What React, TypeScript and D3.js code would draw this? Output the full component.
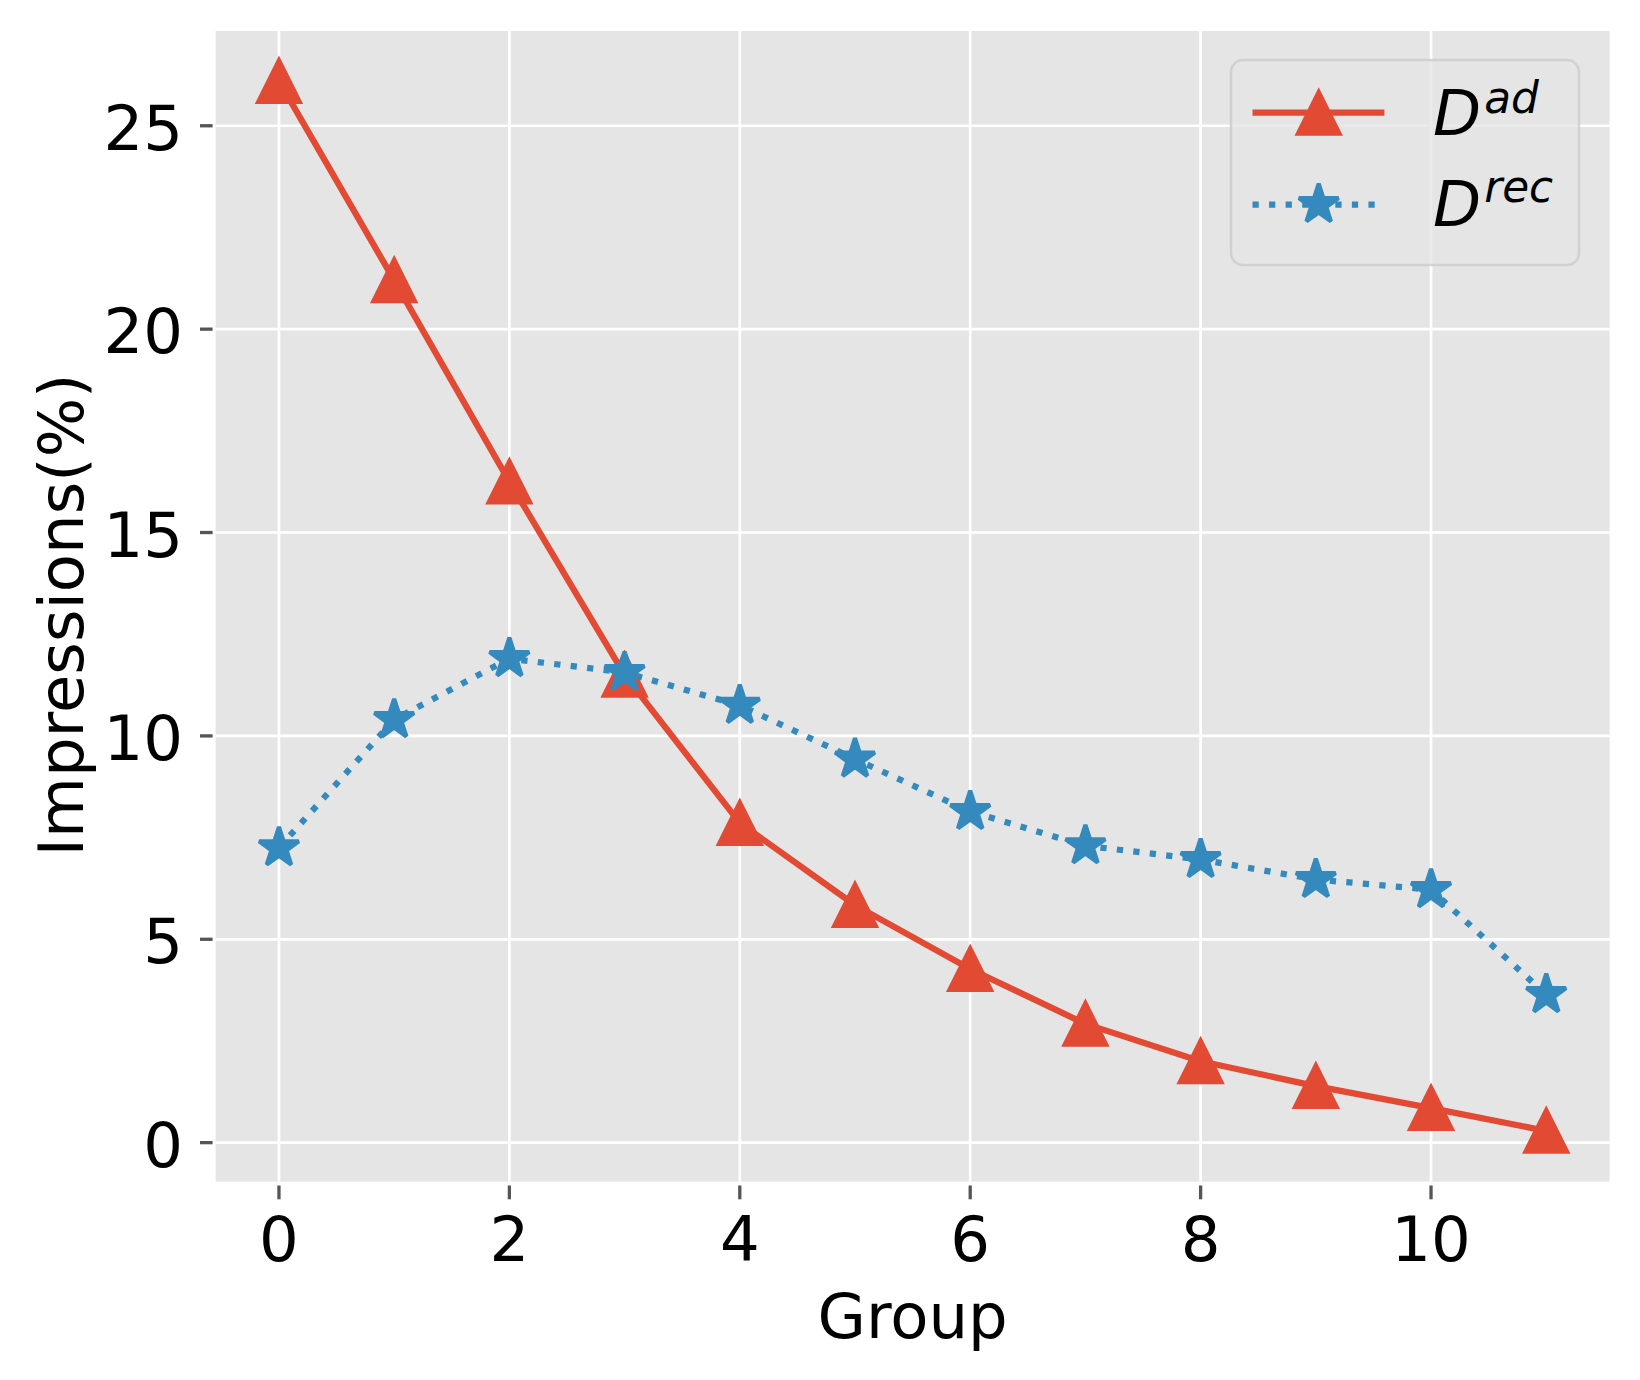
import React from "react";
import * as d3 from "d3";

const groups = [0, 1, 2, 3, 4, 5, 6, 7, 8, 9, 10, 11];
const adValues = [26.1, 21.2, 16.25, 11.5, 7.86, 5.84, 4.27, 2.92, 2.0, 1.39, 0.85, 0.29];
const recValues = [7.25, 10.4, 11.9, 11.56, 10.75, 9.43, 8.14, 7.3, 6.96, 6.47, 6.22, 3.64];
const xTicks = [0, 2, 4, 6, 8, 10];
const yTicks = [0, 5, 10, 15, 20, 25];
const xLimits = [-0.55, 11.55];
const yLimits = [-0.96, 27.33];

const W = 1640;
const H = 1380;
const plot = { left: 215.6, right: 1609.6, top: 31, bottom: 1181.7 };
const RED = "#E24A33";
const BLUE = "#348ABD";
const FONT = "'DejaVu Sans', sans-serif";
const FS = 62.5;
const SUP = 43.75;
const MS = 41.7; // marker size px
const MEW = 4.17;
const LW = 6.25;

function trianglePath(cx: number, cy: number, s: number) {
  const h = s / 2;
  return `M${cx},${cy - h}L${cx - h},${cy + h}L${cx + h},${cy + h}Z`;
}

function starPath(cx: number, cy: number, s: number) {
  const ro = s / 2;
  const ri = ro * 0.381966;
  const pts: string[] = [];
  for (let i = 0; i < 10; i++) {
    const r = i % 2 === 0 ? ro : ri;
    const a = -Math.PI / 2 + (i * Math.PI) / 5;
    pts.push(`${cx + r * Math.cos(a)},${cy + r * Math.sin(a)}`);
  }
  return "M" + pts.join("L") + "Z";
}

export default function App() {
  const x = d3.scaleLinear().domain(xLimits).range([plot.left, plot.right]);
  const y = d3.scaleLinear().domain(yLimits).range([plot.bottom, plot.top]);

  const lineAd = d3
    .line<number>()
    .x((_, i) => x(groups[i]))
    .y((d) => y(d))(adValues) as string;
  const lineRec = d3
    .line<number>()
    .x((_, i) => x(groups[i]))
    .y((d) => y(d))(recValues) as string;

  const leg = { x: 1231, y: 60, w: 348, h: 205 };
  const legLineX0 = 1252.5;
  const legLineX1 = 1384.4;
  const legMarkX = 1318.7;
  const legRow1 = 112.7;
  const legRow2 = 204.5;
  const legTextX = 1433;

  return (
    <svg
      width={W}
      height={H}
      viewBox={`0 0 ${W} ${H}`}
      style={{ position: "absolute", left: 0, top: 0, background: "#fff" }}
      fontFamily={FONT}
    >
      <rect x={0} y={0} width={W} height={H} fill="#ffffff" />
      <rect
        x={plot.left}
        y={plot.top}
        width={plot.right - plot.left}
        height={plot.bottom - plot.top}
        fill="#E5E5E5"
      />
      <defs>
        <clipPath id="plotclip">
          <rect
            x={plot.left}
            y={plot.top}
            width={plot.right - plot.left}
            height={plot.bottom - plot.top}
          />
        </clipPath>
      </defs>
      {/* grid */}
      {xTicks.map((t) => (
        <line
          key={"gx" + t}
          x1={x(t)}
          x2={x(t)}
          y1={plot.top}
          y2={plot.bottom}
          stroke="#ffffff"
          strokeWidth={2.7}
        />
      ))}
      {yTicks.map((t) => (
        <line
          key={"gy" + t}
          x1={plot.left}
          x2={plot.right}
          y1={y(t)}
          y2={y(t)}
          stroke="#ffffff"
          strokeWidth={2.7}
        />
      ))}
      {/* ticks */}
      {xTicks.map((t) => (
        <g key={"tx" + t}>
          <line
            x1={x(t)}
            x2={x(t)}
            y1={plot.bottom + 3.8}
            y2={plot.bottom + 17.6}
            stroke="#555555"
            strokeWidth={3.3}
          />
          <text x={x(t)} y={1261} fontSize={FS} textAnchor="middle" fill="#000">
            {t}
          </text>
        </g>
      ))}
      {yTicks.map((t) => (
        <g key={"ty" + t}>
          <line
            x1={plot.left - 15.6}
            x2={plot.left - 3}
            y1={y(t)}
            y2={y(t)}
            stroke="#555555"
            strokeWidth={3.3}
          />
          <text x={183} y={y(t) + 24} fontSize={FS} textAnchor="end" fill="#000">
            {t}
          </text>
        </g>
      ))}
      {/* axis labels */}
      <text x={912.6} y={1338} fontSize={FS} textAnchor="middle" fill="#000">
        Group
      </text>
      <text
        transform={`translate(82.7,615) rotate(-90)`}
        fontSize={FS}
        textAnchor="middle"
        fill="#000"
      >
        Impressions(%)
      </text>
      {/* series */}
      <g clipPath="url(#plotclip)">
        <path d={lineAd} fill="none" stroke={RED} strokeWidth={LW} strokeLinejoin="round" strokeLinecap="square" />
        {adValues.map((v, i) => (
          <path
            key={"ma" + i}
            d={trianglePath(x(groups[i]), y(v), MS)}
            fill={RED}
            stroke={RED}
            strokeWidth={MEW}
            strokeLinejoin="miter"
          />
        ))}
        <path
          d={lineRec}
          fill="none"
          stroke={BLUE}
          strokeWidth={LW}
          strokeDasharray={`${LW * 1} ${LW * 1.65}`}
          strokeLinejoin="round"
          strokeLinecap="butt"
        />
        {recValues.map((v, i) => (
          <path
            key={"mr" + i}
            d={starPath(x(groups[i]), y(v), MS)}
            fill={BLUE}
            stroke={BLUE}
            strokeWidth={MEW}
            strokeLinejoin="bevel"
          />
        ))}
      </g>
      {/* legend */}
      <rect
        x={leg.x}
        y={leg.y}
        width={leg.w}
        height={leg.h}
        rx={12}
        ry={12}
        fill="#E5E5E5"
        fillOpacity={0.8}
        stroke="#CCCCCC"
        strokeOpacity={0.8}
        strokeWidth={2.5}
      />
      <line x1={legLineX0} x2={legLineX1} y1={legRow1} y2={legRow1} stroke={RED} strokeWidth={LW} />
      <path d={trianglePath(legMarkX, legRow1, MS)} fill={RED} stroke={RED} strokeWidth={MEW} strokeLinejoin="miter" />
      <line
        x1={legLineX0}
        x2={legLineX1}
        y1={legRow2}
        y2={legRow2}
        stroke={BLUE}
        strokeWidth={LW}
        strokeDasharray={`${LW * 1} ${LW * 1.65}`}
      />
      <path d={starPath(legMarkX, legRow2, MS)} fill={BLUE} stroke={BLUE} strokeWidth={MEW} strokeLinejoin="bevel" />
      <text x={legTextX} y={135} fontSize={FS} fontStyle="italic" fill="#000">
        D
        <tspan fontSize={SUP} dx={3} dy={-22.3}>
          ad
        </tspan>
      </text>
      <text x={legTextX} y={226} fontSize={FS} fontStyle="italic" fill="#000">
        D
        <tspan fontSize={SUP} dx={3} dy={-24.3}>
          rec
        </tspan>
      </text>
    </svg>
  );
}
